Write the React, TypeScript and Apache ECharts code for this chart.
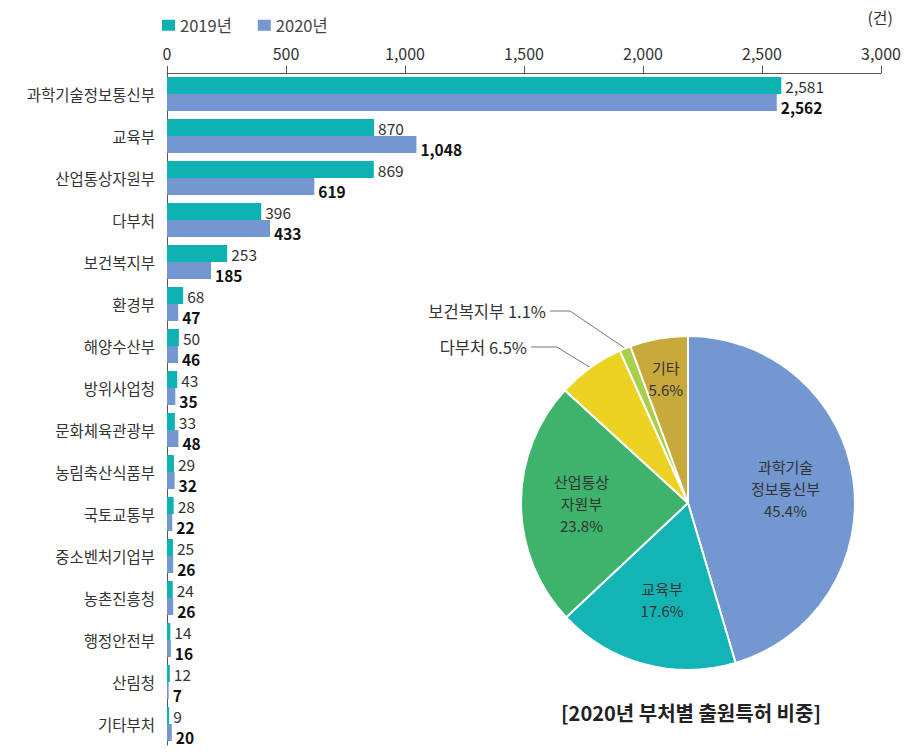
import React, { useEffect, useRef } from "react";
import * as echarts from "echarts";

const categories = [
  "과학기술정보통신부", "교육부", "산업통상자원부", "다부처", "보건복지부", "환경부",
  "해양수산부", "방위사업청", "문화체육관광부", "농림축산식품부", "국토교통부",
  "중소벤처기업부", "농촌진흥청", "행정안전부", "산림청", "기타부처",
];
const values2019 = [2581, 870, 869, 396, 253, 68, 50, 43, 33, 29, 28, 25, 24, 14, 12, 9];
const values2020 = [2562, 1048, 619, 433, 185, 47, 46, 35, 48, 32, 22, 26, 26, 16, 7, 20];
const seriesNames = ["2019년", "2020년"];
const xTicks = { min: 0, max: 3000, interval: 500 };

const pieNames = ["과학기술\n정보통신부", "교육부", "산업통상\n자원부", "다부처", "보건복지부", "기타"];
const pieValues = [45.4, 17.6, 23.8, 6.5, 1.1, 5.6];
const pieOutside = [false, false, false, true, true, false];

const FONT = "'Noto Sans CJK KR', 'Noto Sans', sans-serif";
const TEAL = "#0fb2b2";
const BLUE = "#7297d1";
const PIE_COLORS = ["#7297d1", "#12b4b4", "#3db36b", "#ecd322", "#a8cf4b", "#c8a93b"];
const PIE_CX = 688;
const PIE_CY = 503;
const PIE_R = 167;
// radial shift for inside labels (px)
const INSIDE_SHIFT = [12, 13, 20, 0, 0, 40];
// outside label anchor (right end of text) and turn point
const OUT_POS: Record<number, { x: number; y: number; turnX: number }> = {
  3: { x: 527, y: 347, turnX: 557 },
  4: { x: 546, y: 311, turnX: 570 },
};

function midAngles(): number[] {
  const total = pieValues.reduce((a, b) => a + b, 0);
  let acc = 0;
  return pieValues.map((v) => {
    const start = 90 - (acc / total) * 360;
    acc += v;
    const end = 90 - (acc / total) * 360;
    return ((start + end) / 2) * (Math.PI / 180);
  });
}

export default function App() {
  const ref = useRef<HTMLDivElement>(null);
  useEffect(() => {
    document.body.style.margin = "0";
    if (!ref.current) return;
    const chart = echarts.init(ref.current, undefined, { renderer: "svg" });
    const mids = midAngles();
    const fmt = (v: number) => v.toLocaleString("en-US");
    chart.setOption({
      animation: false,
      textStyle: { fontFamily: FONT },
      legend: {
        data: seriesNames,
        left: 157,
        top: 12,
        icon: "rect",
        itemWidth: 13,
        itemHeight: 11,
        itemGap: 26,
        textStyle: { fontSize: 16.5, color: "#444", fontFamily: FONT },
      },
      grid: { left: 167, right: 32, top: 73, bottom: 9 },
      xAxis: {
        type: "value",
        position: "top",
        min: xTicks.min,
        max: xTicks.max,
        interval: xTicks.interval,
        axisLine: { show: true, lineStyle: { color: "#555", width: 1 } },
        axisTick: { show: true, length: 7, lineStyle: { color: "#555" } },
        axisLabel: { fontSize: 16, color: "#333", margin: 12, formatter: (v: number) => fmt(v), fontFamily: FONT },
        splitLine: { show: false },
      },
      yAxis: {
        type: "category",
        inverse: true,
        data: categories,
        axisLine: { show: true, lineStyle: { color: "#555", width: 1 } },
        axisTick: { show: false },
        axisLabel: { fontSize: 15.5, color: "#333", margin: 12, fontFamily: FONT },
      },
      series: [
        {
          name: seriesNames[0],
          type: "bar",
          data: values2019,
          barWidth: 17,
          barGap: "0%",
          itemStyle: { color: TEAL },
          label: {
            show: true,
            position: "right",
            distance: 4,
            offset: [0, 0],
            fontSize: 15.5,
            lineHeight: 15,
            color: "#333",
            fontFamily: FONT,
            formatter: (p: any) => fmt(p.value),
          },
        },
        {
          name: seriesNames[1],
          type: "bar",
          data: values2020,
          barWidth: 17,
          barGap: "0%",
          itemStyle: { color: BLUE },
          label: {
            show: true,
            position: "right",
            distance: 4,
            offset: [0, 4],
            fontSize: 15.5,
            lineHeight: 15,
            fontWeight: "bold",
            color: "#111",
            fontFamily: FONT,
            formatter: (p: any) => fmt(p.value),
          },
        },
        {
          type: "pie",
          center: [PIE_CX, PIE_CY],
          radius: PIE_R,
          startAngle: 90,
          clockwise: true,
          itemStyle: { borderColor: "#fff", borderWidth: 2 },
          label: {
            show: true,
            position: "inside",
            fontSize: 15,
            lineHeight: 22,
            color: "#333",
            fontFamily: FONT,
          },
          labelLine: { show: false },
          data: pieNames.map((n, i) => ({
            name: n,
            value: pieValues[i],
            itemStyle: { color: PIE_COLORS[i] },
            label: pieOutside[i]
              ? { position: "outside", formatter: `${n} ${pieValues[i]}%`, fontSize: 16.5, color: "#333" }
              : { position: "inside", formatter: `${n}\n${pieValues[i]}%` },
            labelLine: pieOutside[i]
              ? { show: true, lineStyle: { color: "#777", width: 1 }, length: 20, length2: 20 }
              : { show: false },
          })),
          labelLayout: (p: any) => {
            const i = p.dataIndex;
            const a = mids[i];
            if (pieOutside[i]) {
              const o = OUT_POS[i];
              const ex = PIE_CX + PIE_R * Math.cos(a);
              const ey = PIE_CY - PIE_R * Math.sin(a);
              return {
                x: o.x,
                y: o.y,
                align: "right",
                verticalAlign: "middle",
                labelLinePoints: [
                  [ex, ey],
                  [o.turnX, o.y],
                  [o.x + 4, o.y],
                ],
              };
            }
            const s = INSIDE_SHIFT[i];
            return { dx: s * Math.cos(a), dy: -s * Math.sin(a) };
          },
        },
      ],
      graphic: [
        {
          type: "text",
          right: 20,
          top: 9,
          style: { text: "(건)", fontSize: 16, fill: "#333", fontFamily: FONT },
        },
        {
          type: "text",
          x: 691,
          y: 712,
          style: {
            text: "[2020년 부처별 출원특허 비중]",
            fontSize: 20,
            fontWeight: "bold",
            fill: "#222",
            fontFamily: FONT,
            align: "center",
            verticalAlign: "middle",
          },
        },
      ],
    });
    return () => chart.dispose();
  }, []);
  return <div ref={ref} style={{ width: 913, height: 754 }} />;
}
